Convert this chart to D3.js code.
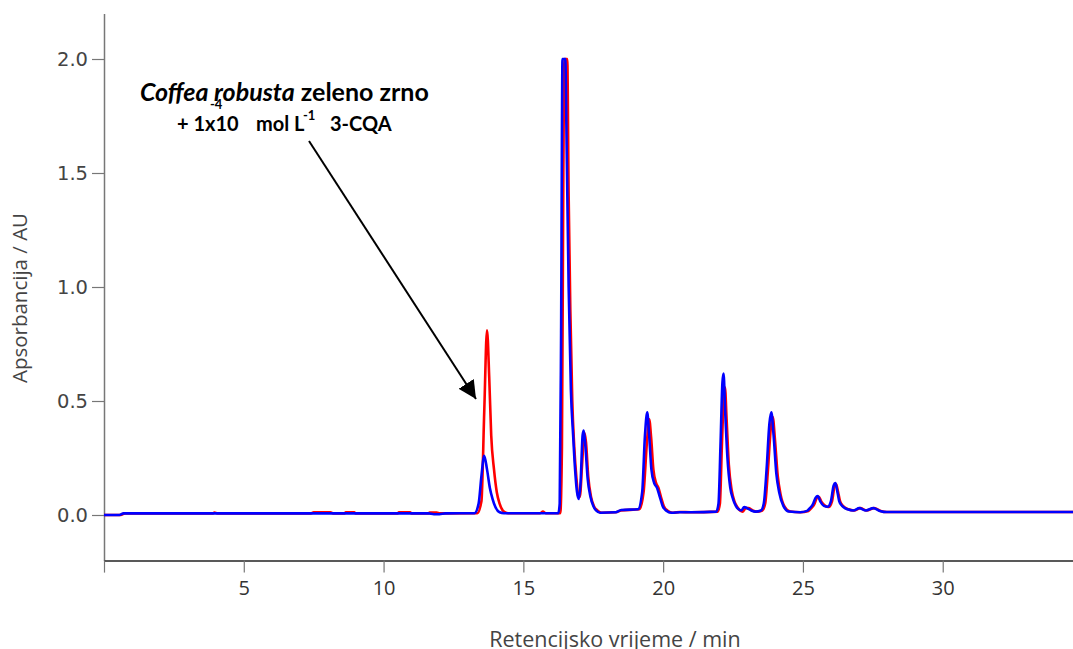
<!DOCTYPE html>
<html><head><meta charset="utf-8">
<script src="https://cdn.jsdelivr.net/npm/d3@7"></script>
<style>
html,body{margin:0;padding:0;background:#fff;}
svg{display:block;}
</style></head>
<body>
<svg id="chart" width="1073" height="649"></svg>
<script>
// ---- data ----
const xTicks = [5, 10, 15, 20, 25, 30];
const yTicks = [0.0, 0.5, 1.0, 1.5, 2.0];

const blueTime = [0,0.55,0.7,11.6,11.8,12.0,12.2,13.25,13.4,13.5,13.6,13.7,13.8,13.9,14.0,14.15,14.3,16.25,16.3,16.35,16.4,16.5,16.55,16.62,16.7,16.78,16.85,16.92,16.98,17.05,17.12,17.16,17.22,17.3,17.4,17.5,17.6,17.75,18.3,18.5,19.1,19.25,19.35,19.43,19.5,19.58,19.68,19.78,19.88,19.98,20.1,20.3,20.6,21.0,21.9,21.98,22.05,22.12,22.16,22.22,22.3,22.4,22.5,22.6,22.7,22.8,22.9,23.0,23.15,23.3,23.5,23.6,23.7,23.8,23.87,23.95,24.05,24.15,24.3,24.5,24.9,25.15,25.25,25.35,25.45,25.53,25.62,25.75,25.88,26.0,26.1,26.16,26.22,26.3,26.4,26.6,26.8,27.02,27.25,27.52,27.75,28.0,34.66];
const blueAbs = [0,0,0.007,0.007,0.003,0.003,0.007,0.008,0.05,0.17,0.26,0.2,0.12,0.07,0.035,0.012,0.008,0.008,0.05,0.8,2.0,2.0,1.6,1.0,0.55,0.35,0.2,0.1,0.07,0.15,0.35,0.37,0.3,0.16,0.08,0.04,0.02,0.01,0.012,0.022,0.025,0.1,0.35,0.45,0.35,0.2,0.14,0.12,0.08,0.04,0.02,0.01,0.012,0.012,0.015,0.05,0.3,0.58,0.62,0.45,0.25,0.12,0.07,0.04,0.025,0.02,0.035,0.03,0.02,0.015,0.02,0.05,0.2,0.4,0.45,0.35,0.18,0.1,0.04,0.015,0.012,0.018,0.03,0.045,0.075,0.083,0.06,0.04,0.036,0.06,0.13,0.14,0.11,0.06,0.04,0.025,0.02,0.03,0.02,0.03,0.018,0.013,0.013];

const redTime = [0,0.6,0.75,3.9,3.95,4.05,7.4,7.5,8.1,8.2,8.6,8.65,8.95,9.0,10.5,10.55,10.95,11.0,11.6,11.65,11.9,12.0,13.35,13.5,13.6,13.7,13.78,13.85,13.95,14.05,14.15,14.3,14.45,15.6,15.7,15.8,16.32,16.38,16.43,16.47,16.57,16.62,16.68,16.75,16.82,16.9,16.97,17.02,17.1,17.18,17.24,17.32,17.42,17.52,17.65,17.8,18.3,18.5,19.15,19.3,19.42,19.5,19.57,19.65,19.75,19.83,19.92,20.02,20.15,20.35,20.6,21.0,21.95,22.03,22.1,22.17,22.21,22.27,22.35,22.45,22.55,22.65,22.75,22.85,22.95,23.05,23.2,23.35,23.55,23.65,23.75,23.85,23.92,24.0,24.1,24.2,24.35,24.55,24.9,25.2,25.3,25.4,25.5,25.57,25.66,25.8,25.92,26.04,26.13,26.19,26.25,26.33,26.43,26.63,26.83,27.05,27.28,27.55,27.78,28.0,34.66];
const redAbs = [0,0,0.007,0.007,0.011,0.007,0.007,0.012,0.012,0.007,0.007,0.012,0.012,0.007,0.007,0.012,0.012,0.007,0.007,0.011,0.011,0.007,0.008,0.06,0.45,0.81,0.6,0.35,0.2,0.1,0.05,0.015,0.008,0.008,0.015,0.008,0.008,0.3,1.5,2.0,2.0,1.4,0.9,0.5,0.3,0.16,0.08,0.08,0.22,0.36,0.32,0.17,0.08,0.04,0.02,0.01,0.012,0.02,0.025,0.1,0.32,0.42,0.34,0.2,0.14,0.12,0.08,0.04,0.02,0.01,0.013,0.012,0.015,0.05,0.3,0.52,0.56,0.42,0.22,0.11,0.06,0.035,0.02,0.015,0.03,0.03,0.02,0.015,0.02,0.05,0.2,0.38,0.43,0.33,0.17,0.09,0.035,0.015,0.012,0.018,0.03,0.045,0.075,0.08,0.058,0.04,0.035,0.06,0.125,0.135,0.105,0.06,0.04,0.025,0.02,0.03,0.02,0.03,0.018,0.013,0.013];

// ---- chart ----
const svg = d3.select("#chart");
const x = d3.scaleLinear().domain([0, 34.66]).range([104, 1073]);
const y = d3.scaleLinear().domain([-0.2, 2.2]).range([560.6, 13.4]);

// y axis
const gy = svg.append("g").attr("transform", "translate(104,0)")
  .call(d3.axisLeft(y).tickValues(yTicks).tickFormat(d3.format(".1f")).tickSize(12).tickPadding(4).tickSizeOuter(0));
gy.select(".domain").attr("stroke", "#777").attr("stroke-width", 1.5);
gy.selectAll(".tick line").attr("stroke", "#777").attr("stroke-width", 1.2);
gy.selectAll(".tick text").attr("font-family", "'DejaVu Sans', Verdana, sans-serif").attr("font-size", 19.5).attr("fill", "#444");

// x axis
const gx = svg.append("g").attr("transform", "translate(0,560.6)")
  .call(d3.axisBottom(x).tickValues([0].concat(xTicks)).tickFormat(d => d === 0 ? "" : d).tickSize(12).tickPadding(8).tickSizeOuter(0));
gx.select(".domain").attr("stroke", "#222").attr("stroke-width", 1.5);
gx.selectAll(".tick line").attr("stroke", "#777").attr("stroke-width", 1.2);
gx.selectAll(".tick text").attr("font-family", "'Open Sans', sans-serif").attr("font-size", 20).attr("fill", "#333");

// axis titles
svg.append("text").attr("x", 615).attr("y", 647).attr("text-anchor", "middle")
  .attr("font-family", "'Open Sans', sans-serif").attr("font-size", 21.5).attr("fill", "#444")
  .text("Retencijsko vrijeme / min");
svg.append("text").attr("transform", "translate(27,298) rotate(-90)").attr("text-anchor", "middle")
  .attr("font-family", "'Open Sans', sans-serif").attr("font-size", 20.5).attr("fill", "#444")
  .text("Apsorbancija / AU");

// series
const line = d3.line().x(d => x(d[0])).y(d => y(d[1])).curve(d3.curveMonotoneX);
const red = redTime.map((t, i) => [t, redAbs[i]]);
const blue = blueTime.map((t, i) => [t, blueAbs[i]]);
svg.append("path").datum(red).attr("d", line).attr("fill", "none").attr("stroke", "#ff0000").attr("stroke-width", 2.6).attr("stroke-linejoin", "round");
svg.append("path").datum(blue).attr("d", line).attr("fill", "none").attr("stroke", "#0000ff").attr("stroke-width", 2.6).attr("stroke-linejoin", "round");

// annotation
const defs = svg.append("defs");
defs.append("marker").attr("id", "arrow").attr("viewBox", "0 0 10 10").attr("refX", 10).attr("refY", 5)
  .attr("markerWidth", 18).attr("markerHeight", 18).attr("markerUnits", "userSpaceOnUse").attr("orient", "auto")
  .append("path").attr("d", "M0,0 L10,5 L0,10 Z").attr("fill", "#000");
svg.append("line").attr("x1", 309).attr("y1", 141).attr("x2", 476).attr("y2", 399)
  .attr("stroke", "#000").attr("stroke-width", 2).attr("marker-end", "url(#arrow)");

const ff = "Lato, 'Open Sans', sans-serif";
const t1 = svg.append("text").attr("x", 140).attr("y", 101).attr("font-family", ff).attr("font-size", 25).attr("font-weight", "bold").attr("fill", "#000");
t1.append("tspan").attr("font-style", "italic").text("Coffea robusta");
t1.append("tspan").text(" zeleno zrno");

const l2 = [
  {tx: "+ 1x10", x0: 177, yb: 131, fs: 20},
  {tx: "-4", x0: 210, yb: 109, fs: 13},
  {tx: "mol L", x0: 256, yb: 131, fs: 20},
  {tx: "-1", x0: 303, yb: 120, fs: 13},
  {tx: "3-CQA", x0: 330, yb: 131, fs: 20}
];
svg.selectAll("text.l2").data(l2).enter().append("text").attr("class", "l2")
  .attr("x", d => d.x0).attr("y", d => d.yb).attr("font-family", ff).attr("font-size", d => d.fs)
  .attr("font-weight", "bold").attr("fill", "#000").text(d => d.tx);
</script>
</body></html>
